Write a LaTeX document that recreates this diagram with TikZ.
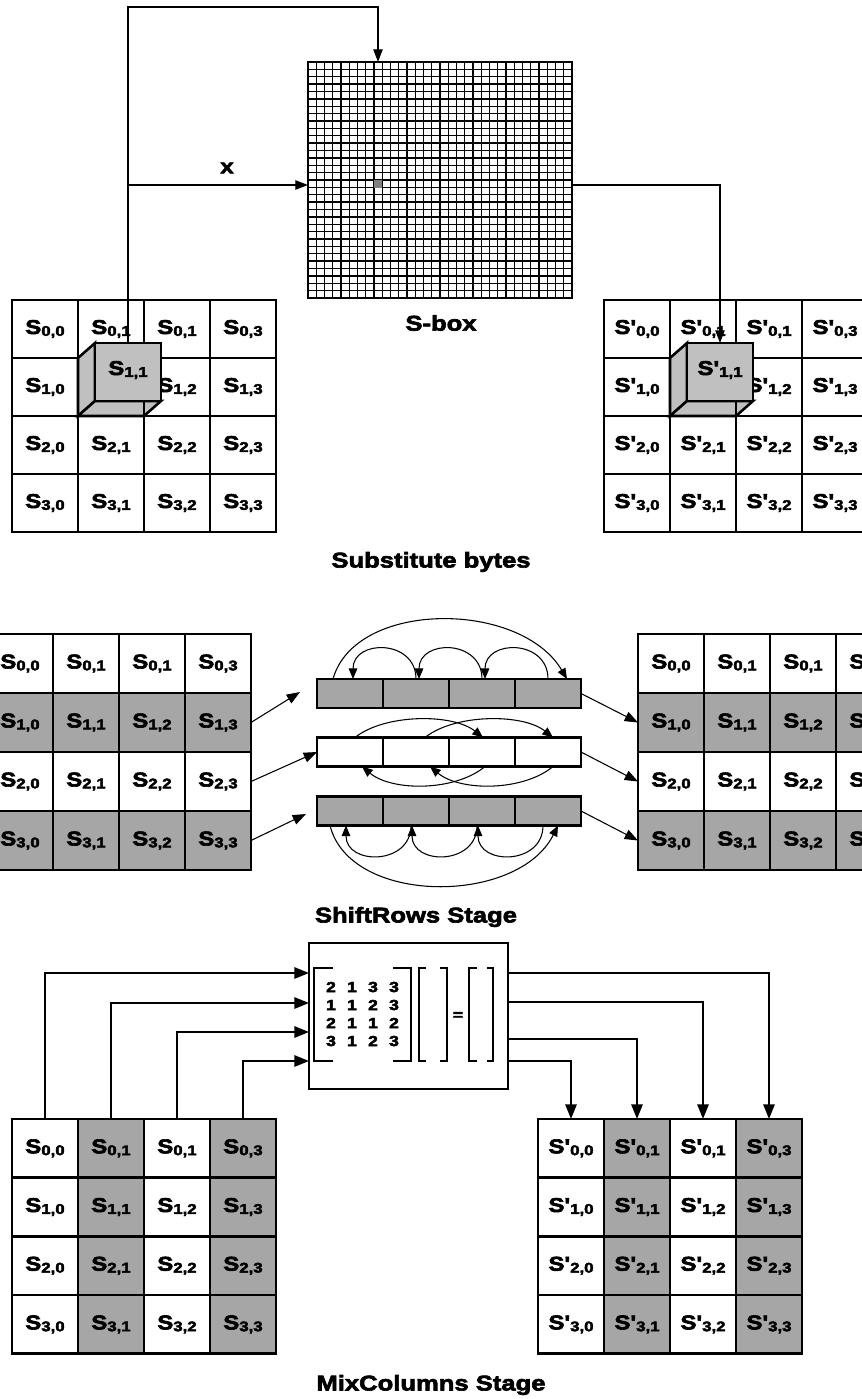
\documentclass[tikz,border=0pt]{standalone}
\usepackage{fontspec}
\setmainfont{Liberation Sans}[Ligatures=TeXOff, FakeStretch=1.2, BoldFeatures={FakeBold=3}]
\usetikzlibrary{arrows.meta,calc}
\definecolor{gry}{HTML}{A6A6A6}
\definecolor{cubegry}{HTML}{C0C0C0}
\definecolor{dotgry}{HTML}{808080}
\newcommand{\Sl}[1]{S{\fontsize{10.5}{10.5}\selectfont\raisebox{-0.25ex}{#1}}}
\newcommand{\Spl}[1]{S'{\fontsize{10.5}{10.5}\selectfont\raisebox{-0.25ex}{#1}}}
\begin{document}
\begin{tikzpicture}[x=0.75pt,y=-0.75pt,
  cellbox/.style={draw, line width=1.9pt, minimum width=49.5pt, minimum height=#1, inner sep=0pt, outer sep=0pt, font=\bfseries\fontsize{15}{16}\selectfont},
  cellbox/.default=43.5pt,
  barcell/.style={draw, line width=1.6pt, minimum width=49.5pt, minimum height=21.75pt, inner sep=0pt, outer sep=0pt},
  cubeface/.style={draw, fill=cubegry, line width=1.9pt, line join=miter},
  title/.style={font=\bfseries\fontsize{16}{18}\selectfont},
  tarr/.style={line width=0.9pt, -{Triangle[length=9.5pt,width=7pt]}},
  sarr/.style={line width=0.8pt, -{Triangle[length=10pt,width=7.5pt]}},
  aarr/.style={line width=0.8pt, -{Triangle[length=8pt,width=6.5pt]}},
  marr/.style={line width=1.5pt, -{Triangle[length=11pt,width=8.5pt]}},
  brk/.style={line width=0.9pt},
  num/.style={font=\bfseries\fontsize{11}{12}\selectfont, inner sep=0pt}
]
\useasboundingbox (0,0) rectangle (862,1399);
\clip (0,0) rectangle (862,1399);

% ================= Substitute bytes =================
\foreach \i in {1,...,31}{
  \draw[line width=1.05pt] ({308+\i*8.25},62) -- ({308+\i*8.25},298);
  \draw[line width=1.05pt] (308,{62+\i*7.375}) -- (572,{62+\i*7.375});
}
\fill[dotgry] (374.3,180.3) rectangle (382.3,187.6);
\node[draw, line width=1.5pt, minimum width=198pt, minimum height=177pt, inner sep=0pt, outer sep=0pt] (SB) at (440,180) {};
\node[title] (sblab) at (441,323) {S-box};

\foreach \r in {0,...,3}{\foreach \c in {0,...,3}{
  \pgfmathtruncatemacro\cc{(\r==0 && \c==2) ? 1 : \c}
  \node[cellbox, fill=white] (A\r\c) at ({45+66*\c},{329+58*\r}) {\Sl{\r,\cc}};
  \node[cellbox, fill=white] (B\r\c) at ({637+66*\c},{329+58*\r}) {\Spl{\r,\cc}};
}}
\foreach \g in {A,B}{
  \draw[cubeface] (\g11.north west) -- ++(17,-15) -- ++(0,58) -- (\g11.south west) -- cycle;
  \draw[cubeface] (\g11.south west) -- ++(17,-15) -- ++(66,0) -- (\g11.south east) -- cycle;
  \draw[line width=1.9pt] (\g11.south east) -- ++(0,-15);
}
\node[cellbox, fill=cubegry, text depth=6pt] (Af) at ($(A11)+(17,-15)$) {\Sl{1,1}};
\node[cellbox, fill=cubegry, text depth=6pt] (Bf) at ($(B11)+(17,-15)$) {\Spl{1,1}};

\coordinate (topin) at (378,62);
\coordinate (xbr) at (128,185);
\coordinate (xin) at (308,185);
\coordinate (xout) at (572,185);
\draw[tarr] (Af.north) -- ++(0,-336) -| (topin);
\draw[tarr] (xbr) -- node[pos=0.55, above=5pt, font=\bfseries\fontsize{15}{16}\selectfont] (xlab) {x} (xin);
\draw[tarr] (xout) -| (Bf.north);

\node[title] (subt) at (431,562) {Substitute bytes};

% ================= ShiftRows =================
\foreach \r in {0,...,3}{\foreach \c in {0,...,3}{
  \pgfmathtruncatemacro\cc{(\r==0 && \c==2) ? 1 : \c}
  \pgfmathtruncatemacro\odd{mod(\r,2)}
  \ifnum\odd=1 \def\fc{gry}\else\def\fc{white}\fi
  \node[cellbox=44.25pt, fill=\fc] (C\r\c) at ({20+66*\c},{663.5+59*\r}) {\Sl{\r,\cc}};
  \node[cellbox=44.25pt, fill=\fc] (D\r\c) at ({671+66*\c},{663.5+59*\r}) {\Sl{\r,\cc}};
}}
\foreach \b/\y/\fc in {1/693.5/gry,2/752/white,3/811/gry}{
  \foreach \k in {0,...,3}{
    \node[barcell, fill=\fc] (E\b\k) at ({350+66*\k},\y) {};
  }
}
\coordinate (e1) at (300,692);
\coordinate (e3) at (306,814);
\draw[sarr] (C13.east) -- (e1);
\draw[sarr] (C23.east) -- (E20.west);
\draw[sarr] (C33.east) -- (e3);
\draw[sarr] (E13.east) -- (D10.west);
\draw[sarr] (E23.east) -- (D20.west);
\draw[sarr] (E33.east) -- (D30.west);

\draw[aarr] (E11.north) .. controls +(0,-40) and +(0,-40) .. ($(E10.north)+(3,0)$);
\draw[aarr] (E12.north) .. controls +(0,-40) and +(0,-40) .. ($(E11.north)+(3,0)$);
\draw[aarr] (E13.north) .. controls +(0,-40) and +(0,-40) .. ($(E12.north)+(3,0)$);
\draw[aarr] ($(E10.north)+(-17,0)$) .. controls +(22,-79) and +(-47,-79) .. ($(E13.north)+(19,0)$);
\draw[aarr] ($(E20.north)+(5,0)$) .. controls +(30,-24) and +(-30,-24) .. ($(E22.north)+(1,0)$);
\draw[aarr] ($(E21.north)+(9,0)$) .. controls +(30,-24) and +(-30,-24) .. ($(E23.north)+(5,0)$);
\draw[aarr] ($(E22.south)+(3,0)$) .. controls +(-30,25) and +(30,25) .. ($(E20.south)+(12,0)$);
\draw[aarr] ($(E23.south)+(5,0)$) .. controls +(-30,25) and +(30,25) .. ($(E21.south)+(14,0)$);
\draw[aarr] ($(E31.south)+(-5,0)$) .. controls +(0,40) and +(0,40) .. ($(E30.south)+(-4,0)$);
\draw[aarr] ($(E32.south)+(-5,0)$) .. controls +(0,40) and +(0,40) .. ($(E31.south)+(-4,0)$);
\draw[aarr] ($(E33.south)+(-5,0)$) .. controls +(0,40) and +(0,40) .. ($(E32.south)+(-4,0)$);
\draw[aarr] ($(E30.south)+(-20,0)$) .. controls +(20,80) and +(-40,80) .. ($(E33.south)+(10,0)$);

\node[title] (shr) at (416,917) {ShiftRows Stage};

% ================= MixColumns =================
\node[draw, line width=1.5pt, minimum width=149.25pt, minimum height=109.5pt, inner sep=0pt, outer sep=0pt] (M) at (408.5,1016) {};
\foreach \r in {0,...,3}{\foreach \c in {0,...,3}{
  \pgfmathtruncatemacro\cc{(\r==0 && \c==2) ? 1 : \c}
  \pgfmathtruncatemacro\odd{mod(\c,2)}
  \ifnum\odd=1 \def\fc{gry}\else\def\fc{white}\fi
  \node[cellbox=44pt, fill=\fc] (F\r\c) at ({45+66*\c},{1148.3+58.7*\r}) {\Sl{\r,\cc}};
  \node[cellbox=44pt, fill=\fc] (G\r\c) at ({571+66*\c},{1148.3+58.7*\r}) {\Spl{\r,\cc}};
}}
\foreach \c/\d in {0/30,1/60,2/89,3/118}{
  \coordinate (Min\c) at ($(M.north west)+(0,\d)$);
  \draw[marr] (F0\c.north) |- (Min\c);
}
\foreach \k/\c/\d in {0/3/30,1/2/59,2/1/96,3/0/118}{
  \coordinate (Mout\k) at ($(M.north east)+(0,\d)$);
  \draw[marr] (Mout\k) -| (G0\c.north);
}
\draw[brk] (333,968) -- (314,968) -- (314,1061) -- (333,1061);
\draw[brk] (393,968) -- (411,968) -- (411,1061) -- (393,1061);
\draw[brk] (426,968) -- (419,968) -- (419,1061) -- (426,1061);
\draw[brk] (440,968) -- (447,968) -- (447,1061) -- (440,1061);
\draw[brk] (477,968) -- (469,968) -- (469,1061) -- (477,1061);
\draw[line width=1.5pt] (487,968) -- (493,968) -- (493,1061) -- (487,1061);
\foreach \v [count=\i from 0] in {2,1,3,3,1,1,2,3,2,1,1,2,3,1,2,3}{
  \pgfmathtruncatemacro\rr{int(\i/4)}
  \pgfmathtruncatemacro\cc{mod(\i,4)}
  \node[num] (n\i) at ({331+21*\cc},{987+18*\rr}) {\v};
}
\node[num] (eq) at (458,1016) {=};

\node[title] (mix) at (431,1385) {MixColumns Stage};
\end{tikzpicture}
\end{document}
